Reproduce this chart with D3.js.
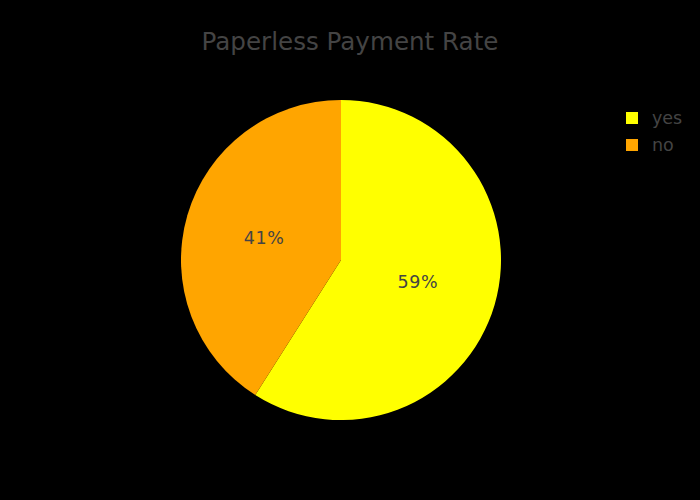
<!DOCTYPE html>
<html><head><meta charset="utf-8">
<script src="https://cdn.jsdelivr.net/npm/d3@7"></script>
<style>body{margin:0;background:#000;} svg{display:block;}</style>
</head><body>
<script>
const categories = ["yes", "no"];
const values = [59, 41];
const colors = ["#ffff00", "#ffa500"];
const title = "Paperless Payment Rate";

const W = 700, H = 500;
const svg = d3.select("body").append("svg").attr("width", W).attr("height", H);
svg.append("rect").attr("width", W).attr("height", H).attr("fill", "#000");
const font = "'DejaVu Sans', Verdana, sans-serif";

svg.append("text").attr("x", 350).attr("y", 50).attr("text-anchor", "middle")
  .attr("font-family", font).attr("font-size", 24.6).attr("fill", "#444").text(title);

const cx = 341, cy = 260, R = 160;
const data = categories.map((c, i) => ({cat: c, v: values[i], color: colors[i]}));
const pie = d3.pie().value(d => d.v).sort(null);
const arcs = pie(data);
const total = d3.sum(values);
const arc = d3.arc().innerRadius(0).outerRadius(R);
const g = svg.append("g").attr("transform", `translate(${cx},${cy})`);
g.selectAll("path").data(arcs).join("path").attr("d", arc).attr("fill", d => d.data.color);
g.selectAll("text").data(arcs).join("text")
  .attr("transform", d => `translate(${arc.centroid(d)})`)
  .attr("text-anchor", "middle").attr("dy", "0.35em")
  .attr("font-family", font).attr("font-size", 17.5).attr("letter-spacing", 0.6).attr("fill", "#444")
  .text(d => Math.round(d.data.v / total * 100) + "%");

const lg = svg.append("g").attr("transform", "translate(626,118)");
const items = lg.selectAll("g").data(data).join("g").attr("transform", (d, i) => `translate(0,${i * 27})`);
items.append("rect").attr("x", 0).attr("y", -6).attr("width", 12).attr("height", 12).attr("fill", d => d.color);
items.append("text").attr("x", 26).attr("dy", "0.35em").attr("font-family", font).attr("font-size", 17.5)
  .attr("fill", "#444").text(d => d.cat);
</script>
</body></html>
